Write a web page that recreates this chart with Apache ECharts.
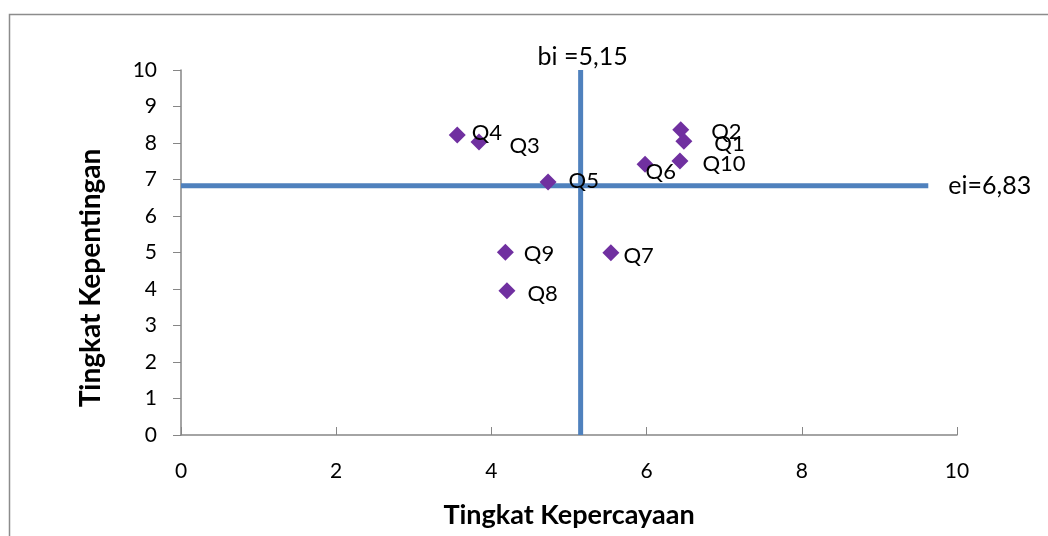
<!DOCTYPE html>
<html>
<head>
<meta charset="utf-8">
<script src="https://cdn.jsdelivr.net/npm/echarts@6/dist/echarts.min.js"></script>
<style>
  html, body { margin: 0; padding: 0; background: #fff; }
  #chart { width: 1048px; height: 536px; }
</style>
</head>
<body>
<div id="chart"></div>
<script>
// titik Q1..Q10: [kepercayaan, kepentingan]
var names = ['Q1', 'Q2', 'Q3', 'Q4', 'Q5', 'Q6', 'Q7', 'Q8', 'Q9', 'Q10'];
var xValues = [6.48, 6.44, 3.84, 3.56, 4.73, 5.98, 5.54, 4.20, 4.18, 6.43];
var yValues = [8.05, 8.36, 8.03, 8.22, 6.93, 7.42, 4.99, 3.95, 5.01, 7.51];
// garis rata-rata
var bi = 5.15;
var ei = 6.83;
var biLine = [[bi, 0], [bi, 10]];
var eiLine = [[0, ei], [9.63, ei]];
var biLabel = 'bi =5,15';
var eiLabel = 'ei=6,83';

window.onload = function () {
  var chart = echarts.init(document.getElementById('chart'));
  var font = 'Lato, "Open Sans", sans-serif';

  // geser label supaya mirip posisi di gambar asli
  var labelOffset = {
    Q1: [20, 3], Q2: [20, 2], Q3: [20, 4], Q4: [4, -2], Q5: [10, -1],
    Q6: [-10, 8], Q7: [2, 3], Q8: [10, 3], Q9: [8, 2], Q10: [12, 3]
  };

  var points = names.map(function (n, i) {
    return {
      name: n,
      value: [xValues[i], yValues[i]],
      label: { offset: labelOffset[n] }
    };
  });

  // label hanya di ujung garis
  function lineData(arr, labelOpt) {
    return arr.map(function (p, i) {
      var item = { value: p, label: { show: false } };
      if (i === arr.length - 1) {
        item.label = labelOpt;
      }
      return item;
    });
  }

  var axisLine = { show: true, lineStyle: { color: '#868686', width: 1.5 } };

  var option = {
    animation: false,
    textStyle: { fontFamily: font },
    grid: { left: 181, right: 91, top: 70, bottom: 101, outerBoundsMode: 'none' },
    xAxis: {
      type: 'value', min: 0, max: 10, interval: 2,
      axisLine: axisLine,
      axisTick: { show: true, inside: true, length: 8, lineStyle: { color: '#868686', width: 1 } },
      axisLabel: { color: '#000', fontSize: 21, margin: 26, fontFamily: font },
      splitLine: { show: false },
      name: 'Tingkat Kepercayaan',
      nameLocation: 'middle',
      nameGap: 67,
      nameTextStyle: { color: '#000', fontSize: 27, fontWeight: 'bold', fontFamily: font }
    },
    yAxis: {
      type: 'value', min: 0, max: 10, interval: 1,
      axisLine: axisLine,
      axisTick: { show: true, inside: false, length: 8, lineStyle: { color: '#868686', width: 1 } },
      axisLabel: { color: '#000', fontSize: 21, margin: 24, fontFamily: font },
      splitLine: { show: false }
    },
    graphic: [
      {
        type: 'rect', silent: true,
        shape: { x: 9.5, y: 14.5, width: 1100, height: 600 },
        style: { fill: 'none', stroke: '#8c8c8c', lineWidth: 1.5 }
      },
      {
        type: 'text', silent: true,
        x: 77, y: 278, rotation: Math.PI / 2,
        style: {
          text: 'Tingkat Kepentingan', fill: '#000',
          font: 'bold 28px ' + font, align: 'center', verticalAlign: 'top'
        }
      }
    ],
    series: [
      {
        type: 'line', silent: true, symbol: 'circle', symbolSize: 0.01, showSymbol: true,
        data: lineData(biLine, { show: true, formatter: biLabel, position: 'top', distance: 1, offset: [2, 0], color: '#000', fontSize: 25, fontFamily: font }),
        lineStyle: { color: '#4F81BD', width: 5 },
        itemStyle: { color: '#4F81BD' }
      },
      {
        type: 'line', silent: true, symbol: 'circle', symbolSize: 0.01, showSymbol: true,
        data: lineData(eiLine, { show: true, formatter: eiLabel, position: 'right', distance: 20, color: '#000', fontSize: 25, fontFamily: font }),
        lineStyle: { color: '#4F81BD', width: 5 },
        itemStyle: { color: '#4F81BD' }
      },
      {
        type: 'scatter', data: points,
        symbol: 'diamond', symbolSize: [17, 17],
        itemStyle: { color: '#7030A0', opacity: 1 },
        label: {
          show: true, position: 'right', distance: 2,
          formatter: '{b}', color: '#000', fontSize: 22, fontFamily: font
        },
        z: 5
      }
    ]
  };
  chart.setOption(option);
};
</script>
</body>
</html>
